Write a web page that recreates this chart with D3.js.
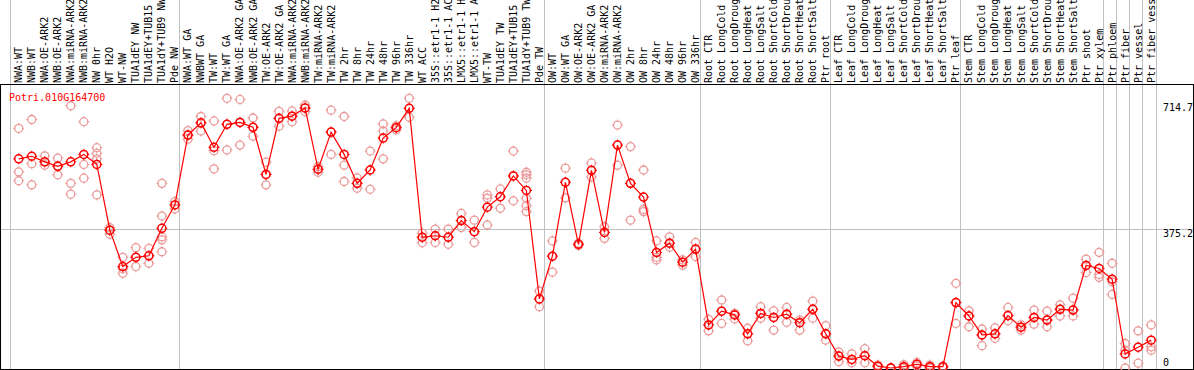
<!DOCTYPE html>
<html>
<head>
<meta charset="utf-8">
<script src="https://cdnjs.cloudflare.com/ajax/libs/d3/7.8.5/d3.min.js"></script>
<style>
  body { margin: 0; background: #fff; }
  .chart text { font-family: "DejaVu Sans Mono", monospace; font-size: 10px; }
</style>
</head>
<body>
<div class="chart"></div>
<script>
var geneId = 'Potri.010G164700';

var samples = [
  'NWA:WT', 'NWB:WT', 'NWA:OE-ARK2', 'NWB:OE-ARK2', 'NWA:miRNA-ARK2', 'NWB:miRNA-ARK2',
  'NW 0hr', 'WT H2O', 'WT-NW', 'TUA1dEY NW', 'TUA1dEY+TUB15 NW', 'TUA1dY+TUB9 NW', 'Pde NW',
  'NWA:WT GA', 'NWBWT GA', 'TW:WT', 'TW:WT GA', 'NWA:OE-ARK2 GA', 'NWB:OE-ARK2 GA',
  'TW:OE-ARK2', 'TW:OE-ARK2 GA', 'NWA:miRNA-ARK2 GA', 'NWB:miRNA-ARK2 GA', 'TW:miRNA-ARK2',
  'TW:miRNA-ARK2 GA', 'TW 2hr', 'TW 8hr', 'TW 24hr', 'TW 48hr', 'TW 96hr', 'TW 336hr',
  'WT ACC', '35S::etr1-1 H2O', '35S::etr1-1 ACC', 'LMX5::etr1-1 H2O', 'LMX5::etr1-1 ACC',
  'WT-TW', 'TUA1dEY TW', 'TUA1dEY+TUB15 TW', 'TUA1dY+TUB9 TW', 'Pde TW',
  'OW:WT', 'OW:WT GA', 'OW:OE-ARK2', 'OW:OE-ARK2 GA', 'OW:miRNA-ARK2', 'OW:miRNA-ARK2 GA',
  'OW 2hr', 'OW 8hr', 'OW 24hr', 'OW 48hr', 'OW 96hr', 'OW 336hr',
  'Root CTR', 'Root LongCold', 'Root LongDrought', 'Root LongHeat', 'Root LongSalt',
  'Root ShortCold', 'Root ShortDrought', 'Root ShortHeat', 'Root ShortSalt', 'Ptr root',
  'Leaf CTR', 'Leaf LongCold', 'Leaf LongDrought', 'Leaf LongHeat', 'Leaf LongSalt',
  'Leaf ShortCold', 'Leaf ShortDrought', 'Leaf ShortHeat', 'Leaf ShortSalt', 'Ptr leaf',
  'Stem CTR', 'Stem LongCold', 'Stem LongDrought', 'Stem LongHeat', 'Stem LongSalt',
  'Stem ShortCold', 'Stem ShortDrought', 'Stem ShortHeat', 'Stem ShortSalt', 'Ptr shoot',
  'Ptr xylem', 'Ptr phloem', 'Ptr fiber', 'Ptr vessel', 'Ptr fiber vessel'
];

// index where each sample group starts (last one closes the plot)
var groupBreaks = [0, 13, 41, 53, 63, 73, 84, 85, 86, 87, 88];

var meanValues = [
  563, 570, 555, 543, 555, 575, 548, 371, 273, 298, 302, 376, 439,
  627, 660, 594, 656, 661, 648, 521, 672, 678, 700, 535, 635, 575, 497, 533, 619, 647, 699,
  352, 356, 352, 397, 367, 433, 461, 517, 478, 186,
  301, 500, 333, 532, 365, 600, 497, 460, 311, 336, 285, 320,
  116, 153, 143, 92, 147, 136, 145, 122, 158, 92,
  32, 23, 33, 5, 0, 3.5, 10, 3.5, 3.5, 176,
  140, 89, 92, 141, 110, 136, 129, 158, 156, 276, 268,
  239, 38, 56, 75
];

var replicates = [
  [645, 528, 504], [669, 550, 493], [571, 555, 546], [565, 544, 520], [706, 497, 468],
  [663, 548, 511], [593, 578, 563, 466], [378, 371, 360], [298, 267, 255], [324, 298, 273],
  [322, 302, 282], [497, 409, 353, 345, 313], [448, 428],
  [639, 627, 616], [677, 660, 638], [665, 585, 536], [726, 656, 587], [723, 661, 600],
  [673, 648, 624], [554, 521, 493], [691, 672, 651], [692, 678, 663], [708, 700, 690],
  [542, 535, 527], [694, 635, 575], [677, 546, 502], [512, 497, 484], [584, 533, 481],
  [657, 638, 563], [652, 647, 641], [726, 699, 675],
  [363, 352, 337], [374, 356, 338], [374, 352, 333], [416, 397, 378], [398, 367, 338],
  [466, 457, 385], [482, 461, 430], [584, 517, 450], [527, 520, 511, 457, 437, 421],
  [207, 186, 165],
  [342, 301, 258], [538, 500, 458], [336, 333, 330], [552, 532, 514], [380, 365, 349],
  [654, 600, 546], [596, 497, 398], [533, 427, 421], [342, 298, 291], [353, 336, 325],
  [291, 285, 277], [338, 320, 300],
  [131, 116, 100], [183, 153, 120], [147, 143, 132], [107, 92, 73], [165, 147, 134],
  [154, 136, 102], [163, 145, 123], [129, 122, 102], [180, 158, 134], [114, 92, 75],
  [43, 32, 17], [38, 23, 14], [52, 33, 14], [8, 5, 3], [1, 0, 0], [9, 3, 0], [15, 10, 5],
  [8, 3, 0], [5, 3, 1], [228, 176, 120],
  [154, 140, 111], [105, 89, 60], [108, 92, 80], [163, 141, 127], [116, 110, 102],
  [156, 136, 118], [153, 129, 111], [170, 158, 140], [188, 156, 140], [293, 276, 257],
  [311, 252, 244],
  [282, 232, 198], [66, 48, 0], [100, 13], [116, 57, 48]
];

var yTicks = [0, 375.2, 714.7];

var width = 1194;
var height = 370;
var plot = { top: 85, bottom: 369, left: 0, right: 1194 };

var svg = d3.select('.chart')
  .append('svg')
    .attr('width', width)
    .attr('height', height);

var xScale = d3.scaleBand()
  .domain(d3.range(samples.length))
  .range([10, 1155.5]);

var yScale = d3.scaleLinear()
  .domain([0, 714.7])
  .range([368, 102.5]);

var cx = i => xScale(i) + 8.7;

// group separators
svg.selectAll('.sep')
  .data(groupBreaks)
  .enter()
  .append('line')
    .attr('x1', d => Math.round(xScale(d) !== undefined ? xScale(d) : xScale.range()[1]) + 0.5)
    .attr('x2', d => Math.round(xScale(d) !== undefined ? xScale(d) : xScale.range()[1]) + 0.5)
    .attr('y1', 0)
    .attr('y2', height)
    .style('stroke', '#c0c0c0');

// horizontal grid at the middle tick
svg.append('line')
  .attr('x1', 0)
  .attr('x2', width)
  .attr('y1', Math.round(yScale(yTicks[1])) + 0.5)
  .attr('y2', Math.round(yScale(yTicks[1])) + 0.5)
  .style('stroke', '#c0c0c0');

// frame
svg.append('rect')
  .attr('x', 0.5)
  .attr('y', plot.top - 0.5)
  .attr('width', width - 1)
  .attr('height', plot.bottom - plot.top + 1)
  .style('fill', 'none')
  .style('stroke', '#000');

// sample labels, rotated
svg.selectAll('.label')
  .data(samples)
  .enter()
  .append('text')
    .attr('class', 'label')
    .attr('transform', (d, i) => `translate(${cx(i)}, 83) rotate(-90)`)
    .attr('dy', '0.35em')
    .style('fill', '#000')
    .text(d => d);

// title
svg.append('text')
  .attr('x', 9)
  .attr('y', 101)
  .style('fill', 'red')
  .text(geneId);

// y tick labels
svg.selectAll('.ytick')
  .data(yTicks)
  .enter()
  .append('text')
    .attr('x', 1163)
    .attr('y', d => d === 0 ? yScale(d) - 2 : yScale(d) + 8.5)
    .style('fill', '#000')
    .text(d => d);

var marker = 'M0,-5.5V-3.5M0,3.5V5.5M-5.5,0H-3.5M3.5,0H5.5';

// replicate points
var reps = [];
replicates.forEach((r, i) => r.forEach(v => reps.push({ i: i, v: v })));

var repG = svg.selectAll('.rep')
  .data(reps)
  .enter()
  .append('g')
    .attr('class', 'rep')
    .attr('transform', d => `translate(${cx(d.i)}, ${yScale(d.v)})`);

repG.append('circle')
  .attr('r', 4)
  .style('fill', 'none')
  .style('stroke', '#eb9a9a')
  .style('stroke-width', 1.3);

repG.append('path')
  .attr('d', marker)
  .style('stroke', '#eb9a9a')
  .style('stroke-width', 1);

// mean line
var line = d3.line()
  .x((d, i) => cx(i))
  .y(d => yScale(d));

svg.append('path')
  .datum(meanValues)
  .attr('d', line)
  .style('fill', 'none')
  .style('stroke', 'red')
  .style('stroke-width', 1.2);

var meanG = svg.selectAll('.mean')
  .data(meanValues)
  .enter()
  .append('g')
    .attr('class', 'mean')
    .attr('transform', (d, i) => `translate(${cx(i)}, ${yScale(d)})`);

meanG.append('circle')
  .attr('r', 4)
  .style('fill', 'none')
  .style('stroke', 'red')
  .style('stroke-width', 1.5);

meanG.append('path')
  .attr('d', marker)
  .style('stroke', 'red')
  .style('stroke-width', 1);
</script>
</body>
</html>
